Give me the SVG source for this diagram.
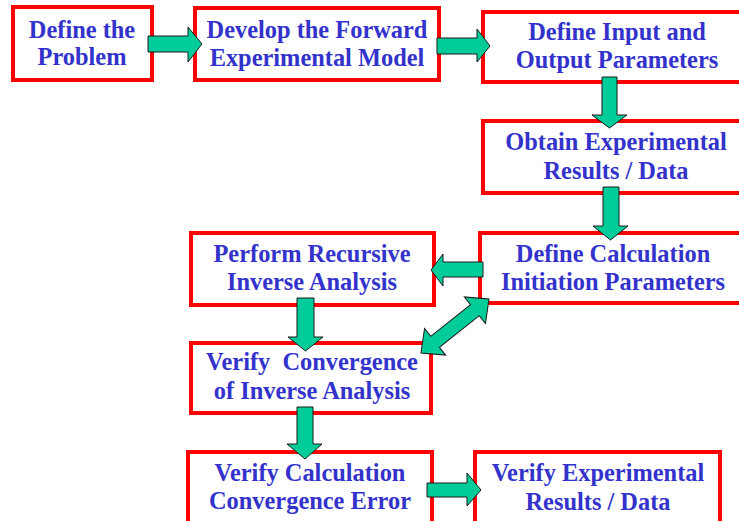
<svg xmlns="http://www.w3.org/2000/svg" width="739" height="521" viewBox="0 0 739 521">
<defs>
<style>
.box{fill:#ffffff;stroke:#ff0000;stroke-width:4}
.t{font-family:"Liberation Serif","Times New Roman",serif;font-weight:bold;font-size:24.4px;fill:#3333cc;text-anchor:middle}
.arr{fill:#00cc99;stroke:#1a1a1a;stroke-width:1;stroke-linejoin:miter}
</style>
</defs>
<rect width="739" height="521" fill="#ffffff"/>
<g id="n1"><rect class="box" x="13" y="7" width="139" height="73"/><text class="t" x="82" y="38">Define the</text><text class="t" x="82" y="65">Problem</text></g>
<g id="n2"><rect class="box" x="195" y="8" width="244" height="72"/><text class="t" x="317" y="38">Develop the Forward</text><text class="t" x="317" y="66">Experimental Model</text></g>
<g id="n3"><rect class="box" x="483" y="12" width="262" height="70"/><text class="t" x="617" y="40">Define Input and</text><text class="t" x="617" y="68">Output Parameters</text></g>
<g id="n4"><rect class="box" x="483" y="121" width="262" height="72"/><text class="t" x="616" y="150">Obtain Experimental</text><text class="t" x="616" y="179">Results / Data</text></g>
<g id="n5"><rect class="box" x="480" y="233" width="265" height="70"/><text class="t" x="613" y="262">Define Calculation</text><text class="t" x="613" y="290">Initiation Parameters</text></g>
<g id="n6"><rect class="box" x="191" y="233" width="243" height="72"/><text class="t" x="312" y="262">Perform Recursive</text><text class="t" x="312" y="290">Inverse Analysis</text></g>
<g id="n7"><rect class="box" x="191" y="343" width="240" height="70"/><text class="t" x="312" y="370" xml:space="preserve">Verify  Convergence</text><text class="t" x="312" y="399">of Inverse Analysis</text></g>
<g id="n8"><rect class="box" x="188" y="452" width="244" height="80"/><text class="t" x="310" y="481">Verify Calculation</text><text class="t" x="310" y="509">Convergence Error</text></g>
<g id="n9"><rect class="box" x="475" y="452" width="245" height="80"/><text class="t" x="598" y="481">Verify Experimental</text><text class="t" x="598" y="510">Results / Data</text></g>
<g id="connectors">
<polygon class="arr" points="148,36 188,36 188,27 202,44 188,62 188,52 148,52"/>
<polygon class="arr" points="437,38 477,38 477,29 490,46 477,62 477,54 437,54"/>
<polygon class="arr" points="602,77 617,77 617,115 627,115 609.5,128 592,115 602,115"/>
<polygon class="arr" points="603,187 619,187 619,226 628,226 610.5,240 593,226 603,226"/>
<polygon class="arr" points="483,262 443,262 443,254 431,270 443,286 443,277 483,277"/>
<polygon class="arr" points="297,298 314,298 314,337 323,337 305.5,351 288,337 297,337"/>
<polygon class="arr" points="297,407 313,407 313,444 322,444 305,459 287,444 297,444"/>
<polygon class="arr" points="427,483 467,483 467,473 481,490 467,506 467,497 427,497"/>
<polygon class="arr" transform="translate(455 326) rotate(-38.45)" points="-43.4,0 -25.4,-17 -25.4,-7 25.4,-7 25.4,-17 43.4,0 25.4,17 25.4,7 -25.4,7 -25.4,17"/>
</g>
</svg>
